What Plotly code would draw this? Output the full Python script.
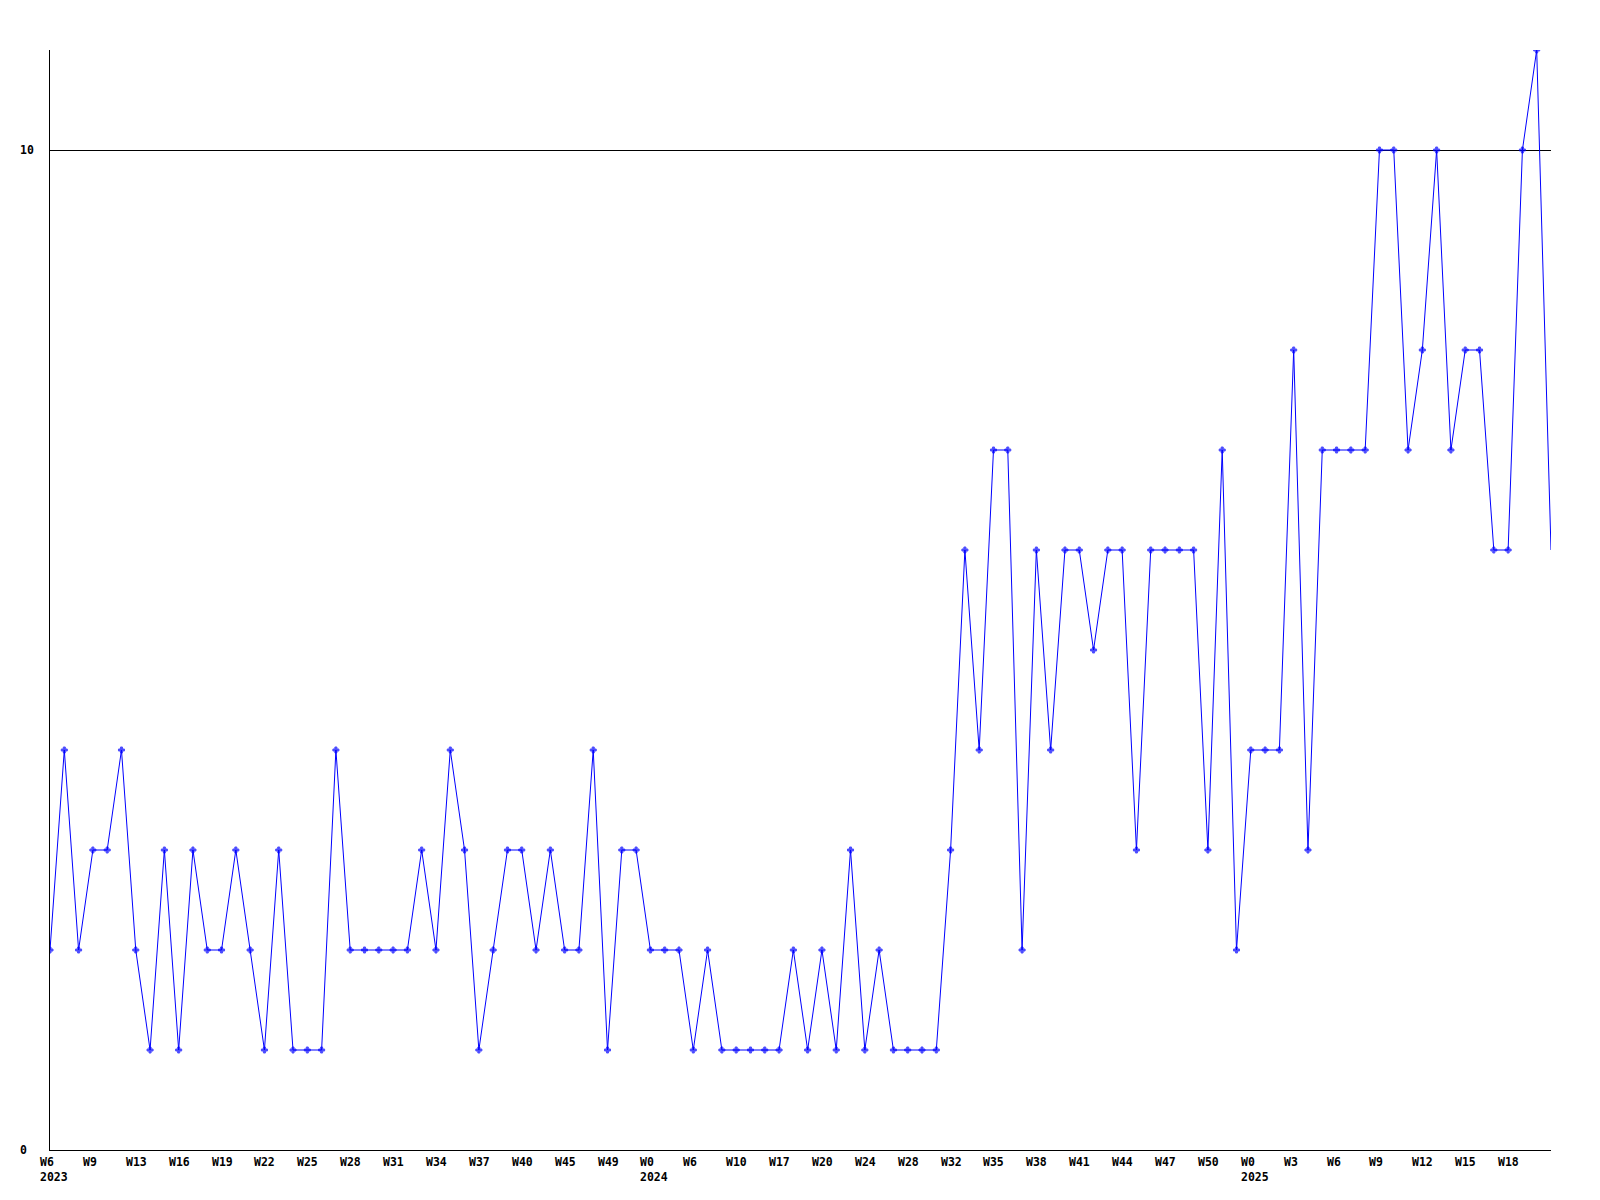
import plotly.graph_objects as go

values = [2, 4, 2, 3, 3, 4, 2, 1, 3, 1, 3, 2, 2, 3, 2, 1, 3, 1, 1, 1,
          4, 2, 2, 2, 2, 2, 3, 2, 4, 3, 1, 2, 3, 3, 2, 3, 2, 2, 4, 1,
          3, 3, 2, 2, 2, 1, 2, 1, 1, 1, 1, 1, 2, 1, 2, 1, 3, 1, 2, 1,
          1, 1, 1, 3, 6, 4, 7, 7, 2, 6, 4, 6, 6, 5, 6, 6, 3, 6, 6, 6,
          6, 3, 7, 2, 4, 4, 4, 8, 3, 7, 7, 7, 7, 10, 10, 7, 8, 10, 7, 8,
          8, 6, 6, 10, 11, 6]

week_labels = ["W6", "W9", "W13", "W16", "W19", "W22", "W25", "W28", "W31", "W34",
               "W37", "W40", "W45", "W49", "W0", "W6", "W10", "W17", "W20", "W24",
               "W28", "W32", "W35", "W38", "W41", "W44", "W47", "W50", "W0", "W3",
               "W6", "W9", "W12", "W15", "W18"]
year_labels = {0: "2023", 14: "2024", 28: "2025"}
y_labels = [0, 10]

label_step = 3
x = list(range(len(values)))
marker_sizes = [5] * (len(values) - 1) + [0]

font = dict(family="DejaVu Sans Mono", size=11.5, color="black", weight="bold")

fig = go.Figure()
fig.add_trace(go.Scatter(
    x=x, y=values, mode="lines+markers",
    line=dict(color="#0000ff", width=1),
    marker=dict(symbol="cross", size=marker_sizes, color="#0000ff",
                line=dict(width=1, color="#0000ff")),
    hoverinfo="skip", showlegend=False,
))

annotations = []
for k, lab in enumerate(week_labels):
    annotations.append(dict(
        x=k * label_step, y=0, xref="x", yref="paper", text=lab, showarrow=False,
        xanchor="left", yanchor="middle", xshift=-11, yshift=-12, font=font, borderpad=0))
    if k in year_labels:
        annotations.append(dict(
            x=k * label_step, y=0, xref="x", yref="paper", text=year_labels[k], showarrow=False,
            xanchor="left", yanchor="middle", xshift=-11, yshift=-27, font=font, borderpad=0))
for v in y_labels:
    annotations.append(dict(
        x=0, y=v, xref="paper", yref="y", text=str(v), showarrow=False,
        xanchor="left", yanchor="middle", xshift=-31, font=font, borderpad=0))

fig.update_layout(
    width=1592, height=1192,
    margin=dict(l=42, r=49, t=42, b=50),
    paper_bgcolor="white", plot_bgcolor="white",
    xaxis=dict(range=[0, len(values) - 1], showgrid=False, zeroline=False,
               showticklabels=False, ticks="", showline=True, linecolor="black", linewidth=1),
    yaxis=dict(range=[0, 11], tickvals=[10], showgrid=True, gridcolor="black", gridwidth=1,
               zeroline=False, showticklabels=False, ticks="",
               showline=True, linecolor="black", linewidth=1),
    annotations=annotations,
)

fig.write_html("out.html")
